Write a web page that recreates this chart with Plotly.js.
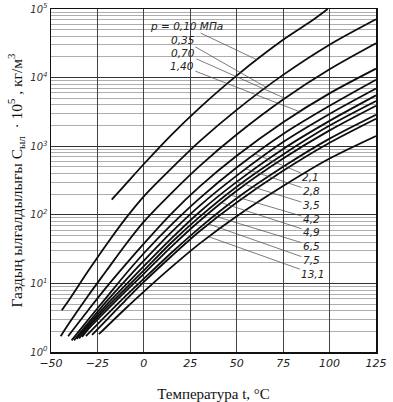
<!DOCTYPE html>
<html><head><meta charset="utf-8">
<script src="https://cdn.plot.ly/plotly-3.0.1.min.js"></script>
<style>html,body{margin:0;padding:0;background:#fff}#c{width:393px;height:402px}</style>
</head><body><div id="c"></div>
<script>
// Moisture content of gas, C (x10^5 kg/m3) vs temperature t (°C), for several pressures (MPa)
const T_010 = [-17.3, -10, 0, 15, 30, 50, 75, 90, 99];
const C_010 = [166, 275, 550, 1480, 3630, 10700, 35500, 66100, 100000];
const T_035 = [-44.2, -40, -30, -20, -10, 0, 15, 30, 50, 75, 100, 125];
const C_035 = [4.07, 5.89, 15.1, 37.2, 87.1, 186, 479, 1175, 3390, 10960, 30200, 70800];
const T_070 = [-44.8, -40, -30, -20, -10, 0, 15, 30, 50, 75, 100, 125];
const C_070 = [1.70, 2.69, 6.61, 15.5, 36.3, 79.4, 209, 513, 1480, 4790, 13200, 31600];
const T_140 = [-40.8, -30, -20, -10, 0, 15, 30, 50, 75, 100, 125];
const C_140 = [1.70, 4.07, 8.91, 18.6, 38.0, 105, 257, 724, 2240, 5890, 13500];
const T_21 = [-38.9, -30, -20, -10, 0, 15, 30, 50, 75, 100, 125];
const C_21 = [1.48, 2.95, 6.31, 13.5, 27.5, 72.4, 174, 490, 1510, 3890, 9330];
const T_28 = [-37.6, -30, -20, -10, 0, 15, 30, 50, 75, 100, 125];
const C_28 = [1.48, 2.63, 5.50, 11.0, 21.4, 56.2, 135, 372, 1150, 2950, 6920];
const T_35 = [-36.2, -30, -20, -10, 0, 15, 30, 50, 75, 100, 125];
const C_35 = [1.55, 2.45, 4.90, 9.33, 17.8, 45.7, 110, 302, 912, 2340, 5500];
const T_42 = [-34.9, -30, -20, -10, 0, 15, 30, 50, 75, 100, 125];
const C_42 = [1.58, 2.29, 4.47, 8.32, 15.5, 39.8, 93.3, 257, 759, 2000, 4570];
const T_49 = [-33.3, -30, -20, -10, 0, 15, 30, 50, 75, 100, 125];
const C_49 = [1.66, 2.14, 4.07, 7.59, 13.8, 34.7, 81.3, 224, 661, 1700, 3890];
const T_65 = [-31.2, -20, -10, 0, 15, 30, 50, 75, 100, 125];
const C_65 = [1.70, 3.47, 6.46, 11.7, 28.2, 64.6, 174, 501, 1290, 2880];
const T_75 = [-27.9, -20, -10, 0, 15, 30, 50, 75, 100, 125];
const C_75 = [1.78, 2.95, 5.62, 10.5, 25.1, 57.5, 151, 437, 1120, 2510];
const T_131 = [-24.2, -10, 0, 15, 30, 50, 75, 100, 125];
const C_131 = [1.82, 4.27, 7.59, 17.4, 38.0, 95.5, 263, 661, 1410];

const xTicks = [-50, -25, 0, 25, 50, 75, 100, 125];
const xTickText = ['\u221250', '\u221225', '0', '25', '50', '75', '100', '125'];
const yTicks = [1, 10, 100, 1000, 10000, 100000];
const yTickText = ['10<sup>0</sup>', '10<sup>1</sup>', '10<sup>2</sup>', '10<sup>3</sup>', '10<sup>4</sup>', '10<sup>5</sup>'];

const series = [
  {name: 'p = 0,10 МПа', t: T_010, c: C_010},
  {name: '0,35', t: T_035, c: C_035},
  {name: '0,70', t: T_070, c: C_070},
  {name: '1,40', t: T_140, c: C_140},
  {name: '2,1', t: T_21, c: C_21},
  {name: '2,8', t: T_28, c: C_28},
  {name: '3,5', t: T_35, c: C_35},
  {name: '4,2', t: T_42, c: C_42},
  {name: '4,9', t: T_49, c: C_49},
  {name: '6,5', t: T_65, c: C_65},
  {name: '7,5', t: T_75, c: C_75},
  {name: '13,1', t: T_131, c: C_131}
];

// label placement (text centre in axis units: t, log10 C) and where the leader touches the curve (t)
const labelPos = [
  [22.7, 4.75, 61], [21.1, 4.55, 66], [21.1, 4.36, 76], [20.5, 4.17, 84],
  [89.8, 2.55, 60], [90.2, 2.35, 55], [90.2, 2.14, 50], [90.2, 1.94, 45],
  [90.2, 1.75, 42], [90.2, 1.55, 38], [90.2, 1.34, 35], [91.0, 1.14, 35]
];

function logAt(t, c, x) {
  for (let i = 0; i < t.length - 1; i++) {
    if (x >= t[i] && x <= t[i + 1]) {
      const f = (x - t[i]) / (t[i + 1] - t[i]);
      return Math.log10(c[i]) * (1 - f) + Math.log10(c[i + 1]) * f;
    }
  }
  return Math.log10(c[c.length - 1]);
}

const traces = series.map(s => ({
  type: 'scatter', mode: 'lines', x: s.t, y: s.c, name: s.name,
  line: {color: '#0d0d0d', width: 1.8, shape: 'spline', smoothing: 0.8},
  hoverinfo: 'skip', showlegend: false
}));

const annotations = series.map((s, i) => {
  const [lx, ly, te] = labelPos[i];
  return {
    x: te, y: logAt(s.t, s.c, te), xref: 'x', yref: 'y',
    ax: lx, ay: ly, axref: 'x', ayref: 'y',
    text: s.name, showarrow: true, arrowhead: 0, arrowwidth: 0.7, arrowcolor: '#444',
    font: {family: 'DejaVu Sans', size: 10.5, style: 'italic', color: '#222'},
    bgcolor: 'rgba(255,255,255,0)', borderpad: 0, standoff: 0, startstandoff: 1
  };
});

const layout = {
  width: 393, height: 402,
  margin: {l: 51, r: 17, t: 9, b: 50},
  paper_bgcolor: '#fff', plot_bgcolor: '#fff',
  showlegend: false,
  xaxis: {
    range: [-50, 125], tickvals: xTicks, ticktext: xTickText,
    showgrid: true, gridcolor: '#444', gridwidth: 1,
    showline: true, linecolor: '#111', linewidth: 1.5, mirror: true,
    ticks: '', zeroline: false,
    tickfont: {family: 'DejaVu Sans', size: 11, style: 'italic', color: '#222'},
    title: {text: 'Температура t, °C', font: {family: 'Liberation Serif', size: 15, color: '#111'}, standoff: 20}
  },
  yaxis: {
    type: 'log', range: [0, 5], tickvals: yTicks, ticktext: yTickText,
    showgrid: true, gridcolor: '#333', gridwidth: 1.3,
    minor: {showgrid: true, dtick: 'D1', gridcolor: '#8a8a8a', gridwidth: 0.7, ticks: ''},
    showline: true, linecolor: '#111', linewidth: 1.5, mirror: true,
    ticks: '', zeroline: false,
    tickfont: {family: 'DejaVu Sans', size: 10, style: 'italic', color: '#333'},
    title: {text: 'Газдың ылғалдылығы C<sub>ыл</sub>  · 10<sup>5</sup> , кг/м<sup>3</sup>',
            font: {family: 'Liberation Serif', size: 15.5, color: '#111'}, standoff: 4}
  },
  annotations: annotations
};

Plotly.newPlot('c', traces, layout, {staticPlot: true, displayModeBar: false});
</script>
</body></html>
